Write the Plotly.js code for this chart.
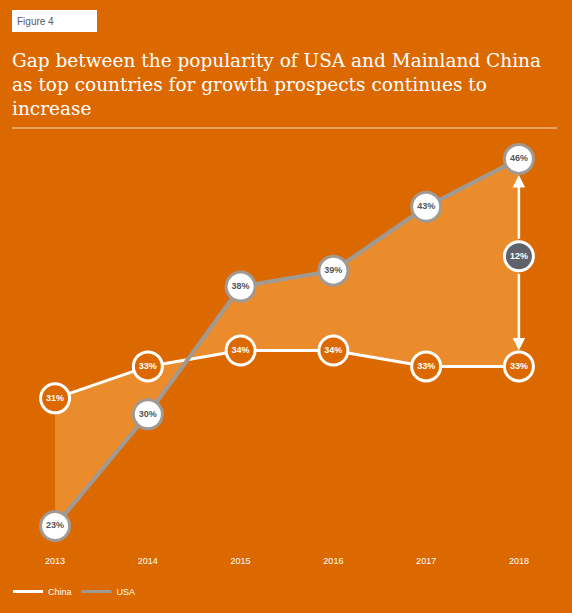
<!DOCTYPE html>
<html>
<head>
<meta charset="utf-8">
<script src="https://cdn.plot.ly/plotly-3.0.1.min.js"></script>
<style>
  html, body { margin: 0; padding: 0; background: #dc6900; }
  #chart { width: 572px; height: 613px; }
</style>
</head>
<body>
<div id="chart"></div>
<script>
// survey results: share of CEOs naming each country as top for growth prospects
const years = [2013, 2014, 2015, 2016, 2017, 2018];
const china = [31, 33, 34, 34, 33, 33];
const usa = [23, 30, 38, 39, 43, 46];
const gapYear = 2018;
const gapLabel = '12%';

const ORANGE = '#dc6900', FILL = '#eb8c2c', GREY = '#a09a94', DARK = '#5f6369';
const pct = v => v + '%';

// gap marker sits about halfway between the two 2018 values
const last = years.length - 1;
const gapY = (china[last] + usa[last]) / 2 + 0.4;

const traces = [
    { x: years, y: china, type: 'scatter', mode: 'lines', line: { color: 'white', width: 3 },
      hoverinfo: 'skip', showlegend: false },
    { x: years, y: usa, type: 'scatter', mode: 'lines', fill: 'tonexty', fillcolor: FILL,
      line: { color: GREY, width: 4 }, hoverinfo: 'skip', showlegend: false },
    // markers on top of the lines
    { x: years, y: china, type: 'scatter', mode: 'markers+text',
      marker: { size: 29, color: ORANGE, line: { color: 'white', width: 3 } },
      text: china.map(pct), textposition: 'middle center',
      textfont: { family: 'Arial', size: 9, color: 'white', weight: 'bold' }, showlegend: false },
    { x: years, y: usa, type: 'scatter', mode: 'markers+text',
      marker: { size: 29, color: 'white', line: { color: GREY, width: 3 } },
      text: usa.map(pct), textposition: 'middle center',
      textfont: { family: 'Arial', size: 9, color: '#555', weight: 'bold' }, showlegend: false },
    { x: [gapYear], y: [gapY], type: 'scatter', mode: 'markers+text',
      marker: { size: 29, color: DARK, line: { color: 'white', width: 3 } },
      text: [gapLabel], textposition: 'middle center',
      textfont: { family: 'Arial', size: 9, color: 'white', weight: 'bold' }, showlegend: false },
    // legend entries
    { x: [null], y: [null], type: 'scatter', mode: 'lines', name: 'China', line: { color: 'white', width: 3 } },
    { x: [null], y: [null], type: 'scatter', mode: 'lines', name: 'USA', line: { color: GREY, width: 3 } },
];

// plot box in px: left 18, right 556, top 119, bottom 550
const px = v => (v - 18) / 538;
const py = v => (550 - v) / 431;

const arrow = (yTip, yTail) => ({
    x: gapYear, y: yTip, ax: gapYear, ay: yTail, xref: 'x', yref: 'y', axref: 'x', ayref: 'y',
    text: '', showarrow: true, arrowhead: 2, arrowsize: 1, arrowwidth: 2.5,
    arrowcolor: 'white', standoff: 16, startstandoff: 16,
});

const annotations = [
    arrow(usa[last], gapY),
    arrow(china[last], gapY),
    { text: 'Figure 4', xref: 'paper', yref: 'paper', x: px(15), y: py(21),
      xanchor: 'left', yanchor: 'middle', showarrow: false,
      font: { family: 'Arial', size: 10, color: '#5a5a5a' } },
    { text: 'Gap between the popularity of USA and Mainland China<br>as top countries for growth prospects continues to<br>increase',
      xref: 'paper', yref: 'paper', x: px(10), y: py(48), xanchor: 'left', yanchor: 'top',
      align: 'left', showarrow: false, font: { family: 'DejaVu Serif', size: 18.5, color: 'white' } },
];

const shapes = [
    { type: 'rect', xref: 'paper', yref: 'paper', layer: 'below',
      x0: px(12), x1: px(97), y0: py(32), y1: py(10), fillcolor: 'white', line: { width: 0 } },
    { type: 'line', xref: 'paper', yref: 'paper', x0: px(12), x1: px(557), y0: py(128), y1: py(128),
      line: { color: '#f7d9bd', width: 1 } },
];

const layout = {
    width: 572, height: 613,
    margin: { l: 18, r: 16, t: 119, b: 63, autoexpand: false },
    paper_bgcolor: ORANGE, plot_bgcolor: ORANGE,
    xaxis: { range: [2012.6, 2018.4], tickvals: years, ticktext: years.map(String), showgrid: false,
             zeroline: false, showline: false, ticks: 'outside', ticklen: 2, tickcolor: 'rgba(0,0,0,0)',
             fixedrange: true, tickfont: { family: 'Liberation Sans Narrow, Arial', size: 9, color: 'white' } },
    yaxis: { range: [21.5, 48.5], visible: false, fixedrange: true },
    showlegend: true,
    legend: { orientation: 'h', traceorder: 'normal', x: px(8), xanchor: 'left', y: py(577), yanchor: 'top',
              font: { family: 'Liberation Sans Narrow, Arial', size: 9, color: 'white' },
              bgcolor: 'rgba(0,0,0,0)' },
    annotations, shapes,
};

Plotly.newPlot('chart', traces, layout, { displayModeBar: false, staticPlot: true });
</script>
</body>
</html>
